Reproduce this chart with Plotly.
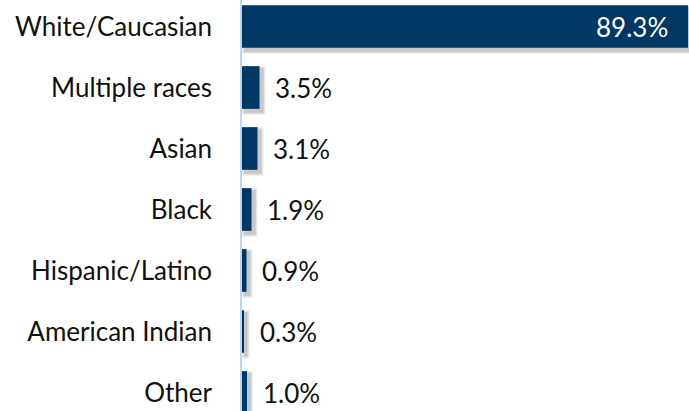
import plotly.graph_objects as go

# Share of respondents by race / ethnicity
categories = ["White/Caucasian", "Multiple races", "Asian", "Black",
              "Hispanic/Latino", "American Indian", "Other"]
values = [89.3, 3.5, 3.1, 1.9, 0.9, 0.3, 1.0]
labels = ["89.3%", "3.5%", "3.1%", "1.9%", "0.9%", "0.3%", "1.0%"]

BAR_COLOR = "#003865"
FONT = "Lato"
FS = 26
W, H = 689, 411
LEFT = 242
X_MAX = 89.5
BAR_W = 0.70

px_x = (W - LEFT) / X_MAX      # pixels per percentage point
px_y = 61.0                     # pixels per category row
y_top = -26.5 / px_y
y_bot = y_top + H / px_y

fig = go.Figure()

# soft drop shadow: a few stacked translucent bars offset down-right
dx, dy = 3.0, 3.0
for e in (3.0, 1.8, 0.8):
    ex = e / px_x
    ey = e / px_y
    fig.add_trace(go.Bar(
        y=categories, x=[v + 2 * ex for v in values],
        base=dx / px_x - ex,
        orientation="h",
        width=BAR_W + 2 * ey,
        offset=-BAR_W / 2 - ey + dy / px_y,
        marker=dict(color="rgba(0,0,0,0.08)", line=dict(width=0)),
        hoverinfo="skip", showlegend=False,
    ))

fig.add_trace(go.Bar(
    y=categories, x=values, orientation="h",
    width=BAR_W,
    marker=dict(color=BAR_COLOR, line=dict(width=0)),
    showlegend=False,
))

annotations = []
for i, (cat, v, lab) in enumerate(zip(categories, values, labels)):
    if i == 0:
        annotations.append(dict(x=v, y=cat, text=lab, showarrow=False,
                                xanchor="right", xshift=-18,
                                font=dict(family=FONT, size=FS, color="white")))
    else:
        annotations.append(dict(x=v, y=cat, text=lab, showarrow=False,
                                xanchor="left", xshift=14,
                                font=dict(family=FONT, size=FS, color="#111111")))

fig.update_layout(
    width=W, height=H,
    margin=dict(l=LEFT, r=0, t=0, b=0),
    barmode="overlay",
    paper_bgcolor="white", plot_bgcolor="white",
    font=dict(family=FONT, size=FS, color="#111111"),
    annotations=annotations,
    xaxis=dict(range=[0, X_MAX], showgrid=False, zeroline=False,
               showticklabels=False, showline=False, fixedrange=True),
    yaxis=dict(type="category", range=[y_bot, y_top], showgrid=False,
               zeroline=False, showline=True, linecolor="#bdd7ee",
               linewidth=1.5, ticks="", ticklabelstandoff=23,
               tickfont=dict(family=FONT, size=FS, color="#111111"),
               fixedrange=True),
)

fig.write_html("out.html")
